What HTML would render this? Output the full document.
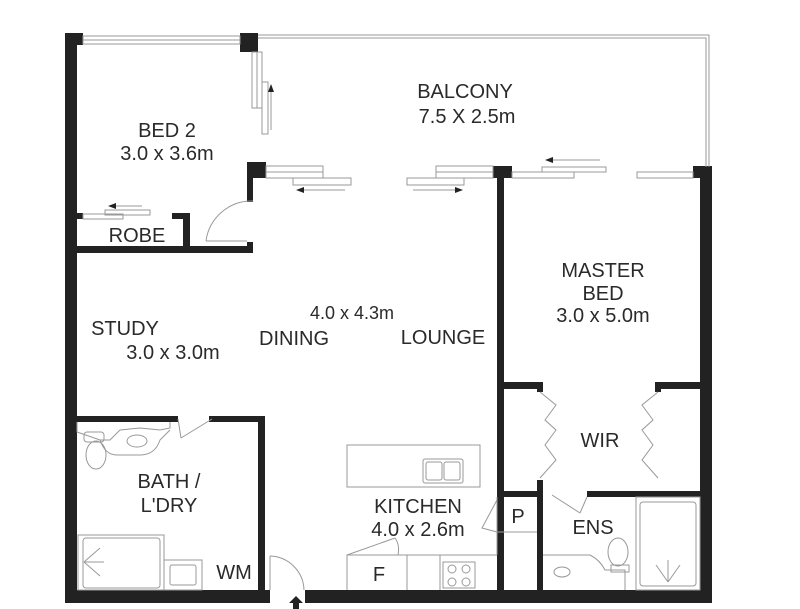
<!DOCTYPE html>
<html><head><meta charset="utf-8"><style>
html,body{margin:0;padding:0;background:#fff;}
svg{display:block;}
text{font-family:"Liberation Sans",sans-serif;font-size:20px;fill:#2a2a2a;text-anchor:middle;}
</style></head><body>
<svg width="800" height="609" viewBox="0 0 800 609" xmlns="http://www.w3.org/2000/svg">
<g fill="#222">
<rect x="65" y="33" width="12" height="570"/>
<rect x="65" y="33" width="18" height="12"/>
<rect x="240" y="33" width="18" height="19"/>
<rect x="247" y="162" width="19" height="16"/>
<rect x="247" y="162" width="6" height="40"/>
<rect x="247" y="242" width="6" height="11"/>
<rect x="65" y="246" width="188" height="7"/>
<rect x="172" y="213" width="18" height="6"/>
<rect x="183" y="213" width="7" height="35"/>
<rect x="77" y="213" width="6" height="6"/>
<rect x="493" y="166" width="19" height="12"/>
<rect x="497" y="166" width="7" height="434"/>
<rect x="693" y="166" width="19" height="12"/>
<rect x="700" y="166" width="12" height="437"/>
<rect x="497" y="382" width="46" height="7"/>
<rect x="537" y="382" width="6" height="10"/>
<rect x="655" y="382" width="45" height="7"/>
<rect x="655" y="382" width="6" height="10"/>
<rect x="497" y="491" width="45" height="6"/>
<rect x="587" y="491" width="113" height="6"/>
<rect x="537" y="487" width="6" height="113"/>
<rect x="537" y="480" width="6" height="10" />
<rect x="65" y="416" width="113" height="6"/>
<rect x="209" y="416" width="56" height="6"/>
<rect x="258" y="416" width="7" height="176"/>
<rect x="65" y="590" width="205" height="13"/>
<rect x="305" y="590" width="407" height="13"/>
<polygon points="296,596 289,603 293,603 293,609 299,609 299,603 303,603"/>
</g>
<g fill="none" stroke="#999" stroke-width="1">
<rect x="83" y="36" width="157" height="8"/>
<line x1="83" y1="40" x2="240" y2="40"/>
<polyline points="258,35 709,35 709,167"/>
<polyline points="258,38 706,38 706,167"/>
<rect x="252" y="52" width="5" height="56"/>
<rect x="257" y="52" width="5" height="56"/>
<rect x="262" y="82" width="6" height="52"/>
<line x1="271" y1="90" x2="271" y2="130"/>
<rect x="266" y="166" width="57" height="6"/>
<rect x="266" y="172" width="57" height="6"/>
<rect x="293" y="178" width="58" height="7"/>
<line x1="300" y1="190" x2="345" y2="190"/>
<rect x="436" y="166" width="57" height="6"/>
<rect x="436" y="172" width="57" height="6"/>
<rect x="407" y="178" width="57" height="7"/>
<line x1="413" y1="190" x2="458" y2="190"/>
<rect x="542" y="167" width="64" height="5"/>
<rect x="512" y="172" width="62" height="6"/>
<rect x="637" y="172" width="56" height="6"/>
<line x1="550" y1="160" x2="600" y2="160"/>
<rect x="83" y="214" width="40" height="5"/>
<rect x="105" y="210" width="45" height="5"/>
<line x1="115" y1="206" x2="142" y2="206"/>
<path d="M253,201 A46,46 0 0 0 206,241"/>
<line x1="206" y1="241" x2="247" y2="241"/>
<line x1="178" y1="419" x2="181" y2="438"/>
<line x1="181" y1="438" x2="212" y2="419"/>
<path d="M77,422 L77,432 L100,440 L110,440 L120,430 L140,428 L160,430 L170,428 L170,422"/>
<ellipse cx="96" cy="455" rx="10" ry="14"/>
<rect x="84" y="432" width="20" height="10" rx="3"/>
<ellipse cx="137" cy="441" rx="10" ry="6"/>
<path d="M100,440 Q105,455 117,455 L140,455 Q155,455 160,440 L170,430"/>
<rect x="78" y="535" width="86" height="55"/>
<rect x="83" y="538" width="77" height="50" rx="3"/>
<line x1="84" y1="562" x2="100" y2="548"/><line x1="84" y1="562" x2="104" y2="562"/><line x1="84" y1="562" x2="100" y2="576"/>
<rect x="164" y="560" width="38" height="30"/>
<rect x="170" y="565" width="26" height="20" rx="2"/>
<path d="M270,556 A35,35 0 0 1 304,590"/>
<line x1="270" y1="556" x2="270" y2="590"/>
<rect x="347" y="445" width="133" height="42"/>
<rect x="423" y="459" width="40" height="24" rx="2"/>
<rect x="426" y="462" width="16" height="18" rx="2"/>
<rect x="444" y="462" width="16" height="18" rx="2"/>
<polyline points="347,590 347,555 497,555"/>
<line x1="347" y1="555" x2="395" y2="538"/>
<path d="M395,538 Q400,545 398,555"/>
<line x1="407" y1="555" x2="407" y2="590"/>
<line x1="440" y1="555" x2="440" y2="590"/>
<rect x="443" y="562" width="32" height="26"/>
<circle cx="452" cy="569" r="4"/><circle cx="466" cy="569" r="4"/>
<circle cx="452" cy="582" r="4"/><circle cx="466" cy="582" r="4"/>
<line x1="497" y1="532" x2="537" y2="532"/>
<line x1="497" y1="497" x2="497" y2="555"/>
<polyline points="497,500 482,528 497,532"/>
<polyline points="540,392 556,405 545,420 556,430 545,445 556,460 540,478"/>
<polyline points="658,392 642,405 653,420 642,430 653,445 642,460 658,478"/>
<line x1="552" y1="495" x2="580" y2="513"/>
<line x1="580" y1="513" x2="587" y2="497"/>
<path d="M543,555 L590,555 Q600,560 605,570 L625,570 L625,590"/>
<ellipse cx="562" cy="572" rx="8" ry="5"/>
<ellipse cx="618" cy="552" rx="10" ry="14"/>
<rect x="611" y="565" width="18" height="7"/>
<rect x="636" y="497" width="64" height="93"/>
<rect x="640" y="502" width="56" height="84" rx="3"/>
<line x1="668" y1="582" x2="656" y2="565"/><line x1="668" y1="582" x2="668" y2="560"/><line x1="668" y1="582" x2="680" y2="565"/>
</g>
<g fill="#222">
<polygon points="271,84 268,92 274,92"/>
<polygon points="296,190 304,187 304,193"/>
<polygon points="463,190 455,187 455,193"/>
<polygon points="545,160 553,157 553,163"/>
<polygon points="108,206 116,203 116,209"/>
</g>
<text x="465" y="98">BALCONY</text>
<text x="467" y="123">7.5 X 2.5m</text>
<text x="167" y="137">BED 2</text>
<text x="167" y="160">3.0 x 3.6m</text>
<text x="137" y="242">ROBE</text>
<text x="125" y="335">STUDY</text>
<text x="173" y="359">3.0 x 3.0m</text>
<text x="352" y="319" style="font-size:18px">4.0 x 4.3m</text>
<text x="294" y="345">DINING</text>
<text x="443" y="344">LOUNGE</text>
<text x="603" y="277">MASTER</text>
<text x="603" y="300">BED</text>
<text x="603" y="322">3.0 x 5.0m</text>
<text x="600" y="447">WIR</text>
<text x="169" y="488">BATH /</text>
<text x="169" y="512">L'DRY</text>
<text x="418" y="513">KITCHEN</text>
<text x="418" y="536">4.0 x 2.6m</text>
<text x="518" y="523">P</text>
<text x="593" y="534">ENS</text>
<text x="234" y="579">WM</text>
<text x="379" y="581">F</text>
</svg>
</body></html>
